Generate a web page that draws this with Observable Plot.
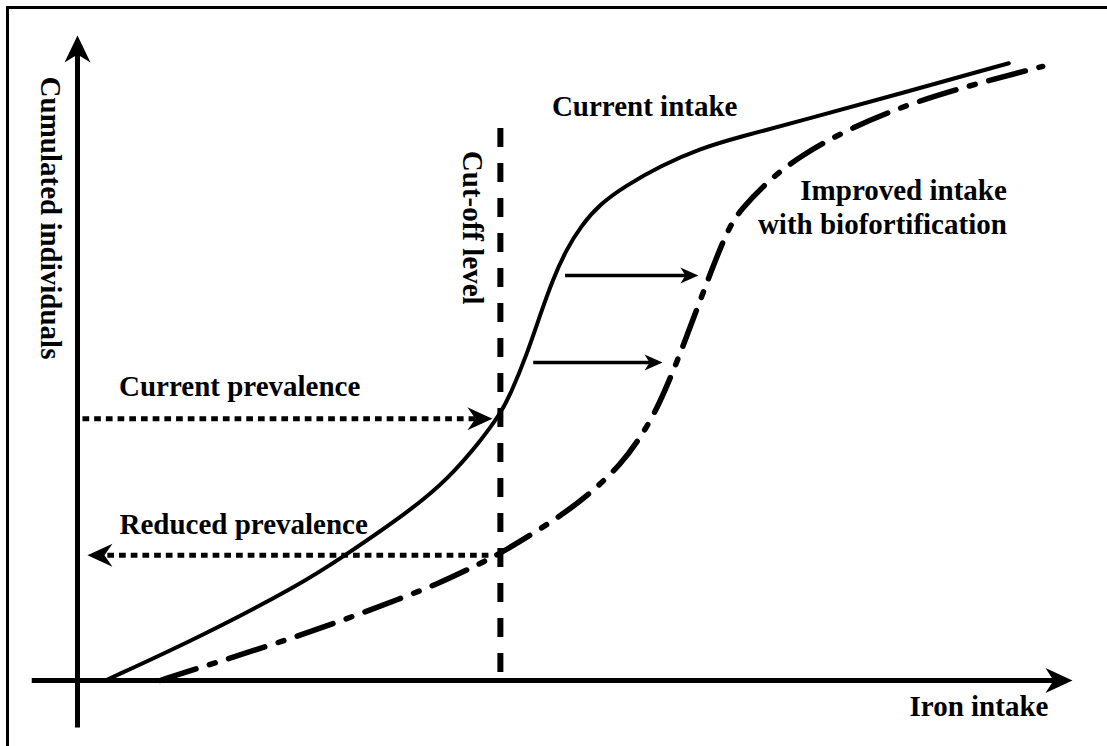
<!DOCTYPE html>
<html>
<head>
<meta charset="utf-8">
<script src="https://cdn.jsdelivr.net/npm/d3@7"></script>
<script src="https://cdn.jsdelivr.net/npm/@observablehq/plot@0.6"></script>
<style>
  html, body { margin: 0; padding: 0; background: #fff; overflow: hidden; }
  #wrap { position: relative; width: 1107px; height: 746px; overflow: hidden; }
  #frame { position: absolute; left: 6px; top: 6px; width: 1300px; height: 900px;
           border-left: 3px solid #000; border-top: 3px solid #000; pointer-events: none; }
  #chart svg { display: block; }
</style>
</head>
<body>
<div id="wrap"><div id="chart"></div><div id="frame"></div></div>
<script>
// Conceptual chart: iron intake (x, arbitrary units 0-100) vs cumulated individuals (y, 0-100)
const currentX  = [2.8, 12.4, 22.4, 26.7, 33.5, 37.2, 40.5, 42.5, 43.5, 45.2, 46.5, 47.8, 49.1, 50.6, 52.6, 55.1, 58.6, 62.6, 66.6, 72.7, 82.7, 93.6];
const currentY  = [0.0, 6.8, 14.9, 19.2, 26.4, 31.2, 37.1, 41.4, 44.3, 50.7, 56.7, 62.3, 66.7, 70.5, 74.0, 76.7, 79.8, 82.5, 84.3, 86.8, 91.0, 95.7];
const improvedX = [8.3, 12.1, 19.1, 26.1, 32.8, 36.2, 39.5, 42.5, 46.0, 49.1, 51.9, 54.6, 56.6, 58.4, 60.6, 62.9, 65.3, 66.6, 69.4, 72.7, 77.7, 84.4, 91.5, 97.0];
const improvedY = [0.0, 1.9, 5.3, 9.0, 12.9, 15.0, 17.4, 19.7, 23.0, 26.1, 29.5, 33.5, 37.7, 42.5, 50.7, 60.3, 69.9, 72.9, 77.5, 81.4, 85.7, 89.9, 93.0, 95.2];

const cutoffLevel = 42.5;      // vertical dashed line
const cutoffTop = 85.6;
const xAxisStart = -4.6;       // axes extents
const yAxisStart = -7.3;
const axisEnd = 100;

// prevalence arrows (dotted)
const prevalenceNames = ["Current prevalence", "Reduced prevalence"];
const prevalenceFrom  = [0.5, 41.3];
const prevalenceTo    = [41.7, 1.0];
const prevalenceLevel = [40.6, 19.4];

// shift arrows (solid)
const shiftFrom  = [49.0, 45.8];
const shiftTo    = [62.4, 58.8];
const shiftLevel = [62.8, 49.3];

// labels
const labelText   = ["Cumulated individuals", "Cut-off level", "Current intake", "Improved intake", "with biofortification", "Current prevalence", "Reduced prevalence", "Iron intake"];
const labelX      = [-2.7, 39.7, 57.0, 93.4, 93.4, 16.3, 16.7, 90.6];
const labelY      = [71.7, 70.2, 88.9, 75.9, 70.7, 45.6, 24.1, -4.0];
const labelRotate = [90, 90, 0, 0, 0, 0, 0, 0];
const labelAnchor = ["middle", "middle", "middle", "end", "end", "middle", "middle", "middle"];

// ---- layout
const W = 1107, H = 746, mL = 77, mR = 35, mT = 35, mB = 66;
const ux = 100 / (W - mL - mR);   // data units per pixel
const uy = 100 / (H - mT - mB);

const current = currentX.map((x, i) => ({x, y: currentY[i]}));
const improved = improvedX.map((x, i) => ({x, y: improvedY[i]}));
const labels = labelText.map((t, i) => ({text: t, x: labelX[i], y: labelY[i], rotate: labelRotate[i], anchor: labelAnchor[i]}));

// stealth arrowhead symbol, tip at the dot position
function headSymbol(angleDeg, L, Hh, N) {
  const a = angleDeg * Math.PI / 180, c = Math.cos(a), s = Math.sin(a);
  const pts = [[0, 0], [-L, -Hh], [-L + N, 0], [-L, Hh]].map(([x, y]) => [x * c - y * s, x * s + y * c]);
  return {draw(ctx) { ctx.moveTo(...pts[0]); for (let k = 1; k < pts.length; ++k) ctx.lineTo(...pts[k]); ctx.closePath(); }};
}

const heads = [];
// axes
const axL = 27, axH = 12.5, axN = 8;
heads.push({x: axisEnd, y: 0, dir: 0, L: axL, H: axH, N: axN});
heads.push({x: 0, y: axisEnd, dir: -90, L: axL, H: 13, N: axN});
const axisShafts = [
  {x1: xAxisStart, y1: 0, x2: axisEnd - (axL - axN - 2) * ux, y2: 0},
  {x1: 0, y1: yAxisStart, x2: 0, y2: axisEnd - (axL - axN - 2) * uy}
];
// prevalence
const pL = 25, pH = 11.5, pN = 8;
const prevShafts = prevalenceNames.map((n, i) => {
  const dirSign = Math.sign(prevalenceTo[i] - prevalenceFrom[i]);
  heads.push({x: prevalenceTo[i], y: prevalenceLevel[i], dir: dirSign > 0 ? 0 : 180, L: pL, H: pH, N: pN});
  return {x1: prevalenceFrom[i], y1: prevalenceLevel[i], x2: prevalenceTo[i] - dirSign * (pL - pN - 2) * ux, y2: prevalenceLevel[i]};
});
// shift
const sL = 18, sH = 8, sN = 5;
const shiftShafts = shiftFrom.map((f, i) => {
  heads.push({x: shiftTo[i], y: shiftLevel[i], dir: 0, L: sL, H: sH, N: sN});
  return {x1: f, y1: shiftLevel[i], x2: shiftTo[i] - (sL - sN - 2) * ux, y2: shiftLevel[i]};
});

const font = {fontFamily: "'Liberation Serif', 'Times New Roman', serif", fontWeight: "bold", fontSize: 29, fill: "black"};

const plot = Plot.plot({
  width: W, height: H,
  marginLeft: mL, marginRight: mR, marginTop: mT, marginBottom: mB,
  x: {domain: [0, 100], axis: null},
  y: {domain: [0, 100], axis: null},
  style: {background: "white", overflow: "visible"},
  marks: [
    Plot.ruleX([cutoffLevel], {x: d => d, y1: cutoffTop, y2: 0, stroke: "black", strokeWidth: 6, strokeDasharray: "19,16"}),
    Plot.link(axisShafts, {x1: "x1", y1: "y1", x2: "x2", y2: "y2", stroke: "black", strokeWidth: 5}),
    Plot.line(improved, {x: "x", y: "y", curve: "basis", stroke: "black", strokeWidth: 5.5, strokeDasharray: "38,14,6,14"}),
    Plot.line(current, {x: "x", y: "y", curve: "basis", stroke: "black", strokeWidth: 4}),
    Plot.link(prevShafts, {x1: "x1", y1: "y1", x2: "x2", y2: "y2", stroke: "black", strokeWidth: 5, strokeDasharray: "6.7,5"}),
    Plot.link(shiftShafts, {x1: "x1", y1: "y1", x2: "x2", y2: "y2", stroke: "black", strokeWidth: 3.5}),
    ...heads.map(h => Plot.dot([h], {x: "x", y: "y", symbol: headSymbol(h.dir, h.L, h.H, h.N), fill: "black", stroke: "none"})),
    Plot.text(labels.filter(d => d.anchor === "middle"), {x: "x", y: "y", text: "text", rotate: "rotate", textAnchor: "middle", ...font}),
    Plot.text(labels.filter(d => d.anchor === "end"), {x: "x", y: "y", text: "text", rotate: "rotate", textAnchor: "end", ...font})
  ]
});
document.getElementById("chart").appendChild(plot);
</script>
</body>
</html>
